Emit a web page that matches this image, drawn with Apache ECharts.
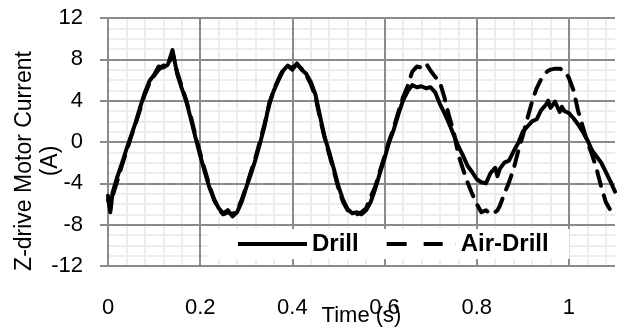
<!DOCTYPE html>
<html><head><meta charset="utf-8">
<script src="https://cdn.jsdelivr.net/npm/echarts@6/dist/echarts.min.js"></script>
<style>html,body{margin:0;padding:0;background:#fff}#c{width:617px;height:327px}</style>
</head><body><div id="c"></div>
<script>
const time = [0, 0.005, 0.01, 0.02, 0.03, 0.04, 0.05, 0.06, 0.07, 0.08, 0.09,
  0.1, 0.11, 0.12, 0.13, 0.14, 0.15, 0.16, 0.17, 0.18, 0.19,
  0.2, 0.21, 0.22, 0.23, 0.24, 0.25, 0.26, 0.27, 0.28, 0.29,
  0.3, 0.31, 0.32, 0.33, 0.34, 0.35, 0.36, 0.37, 0.38, 0.39,
  0.4, 0.41, 0.42, 0.43, 0.44, 0.45, 0.46, 0.47, 0.48, 0.49,
  0.5, 0.51, 0.52, 0.53, 0.54, 0.55, 0.56, 0.57, 0.58, 0.59,
  0.6, 0.61, 0.62, 0.63, 0.64, 0.65, 0.66, 0.67, 0.68, 0.69,
  0.7, 0.71, 0.72, 0.73, 0.74, 0.75, 0.76, 0.77, 0.78, 0.79,
  0.8, 0.81, 0.82, 0.83, 0.84, 0.845,
  0.85, 0.86, 0.87, 0.88, 0.89, 0.9, 0.91, 0.92, 0.93, 0.94, 0.95, 0.955,
  0.96, 0.97, 0.98, 0.985,
  0.99, 1, 1.01, 1.02, 1.03, 1.04, 1.05, 1.06, 1.07, 1.08, 1.09, 1.1];

const drill = [-5.2, -6.8, -4.9, -3.4, -2.1, -0.7, 0.6, 1.9, 3.4, 4.8, 5.9,
  6.5, 7.3, 7.2, 7.5, 8.9, 6.6, 5.2, 3.9, 2.2, 0.4,
  -1.3, -2.9, -4.4, -5.5, -6.4, -6.9, -6.6, -7.2, -6.8, -5.8,
  -4.4, -3.1, -1.7, -0.1, 1.6, 3.8, 5.0, 6.0, 6.9, 7.4,
  7.0, 7.6, 7.0, 6.6, 5.8, 4.6, 2.5, 0.5, -1.0, -2.6,
  -4.3, -5.6, -6.5, -6.9, -6.8, -7.0, -6.6, -5.8, -4.5, -3.0,
  -1.6, 0.0, 1.2, 2.7, 4.0, 4.9, 5.5, 5.3, 5.4, 5.2,
  5.3, 4.8, 3.7, 2.8, 1.8, 0.7, -0.4, -1.3, -2.3, -2.9,
  -3.6, -3.9, -4.0, -3.0, -2.5, -3.3,
  -2.6, -2.0, -1.8, -0.9, -0.1, 1.0, 1.5, 2.0, 2.2, 3.1, 3.6, 4.0,
  3.3, 3.9, 2.9, 3.4,
  3.0, 2.8, 2.3, 1.7, 1.0, 0.2, -0.8, -1.4, -2.0, -2.9, -3.8, -4.8];

const airDrill = [-5.6, -6.5, -5.2, -3.8, -2.3, -0.9, 0.5, 1.8, 3.2, 4.6, 5.7,
  6.4, 7.0, 7.4, 7.3, 8.6, 6.8, 5.4, 4.0, 2.4, 0.6,
  -1.1, -2.7, -4.2, -5.6, -6.5, -7.0, -6.8, -7.0, -6.6, -5.6,
  -4.3, -2.9, -1.5, 0.1, 1.8, 3.6, 5.1, 6.1, 7.0, 7.3,
  7.2, 7.5, 7.1, 6.5, 5.6, 4.4, 2.3, 0.4, -1.2, -2.8,
  -4.5, -5.8, -6.6, -6.8, -7.0, -6.8, -6.4, -5.3, -4.3, -2.8,
  -1.4, 0.1, 1.4, 2.9, 4.3, 5.4, 6.8, 7.3, 7.2, 7.6,
  6.9, 6.3, 5.8, 4.3, 2.5, 1.0, -1.2, -2.6, -3.9, -5.0,
  -6.0, -6.8, -6.6, -7.0, -6.8, -6.6,
  -6.2, -5.0, -3.9, -2.6, -0.9, 0.6, 2.3, 3.9, 5.2, 6.1, 6.7, 6.9,
  7.0, 7.1, 7.1, 7.0,
  6.9, 6.2, 5.0, 3.0, 1.5, 0.0, -1.2, -2.6, -4.3, -5.8, -6.6, -7.0];

const seriesNames = ['Drill', 'Air-Drill'];
const xAxisName = 'Time (s)';
const yAxisName = 'Z-drive Motor Current\n(A)';

const FONT = 'Arial, "Liberation Sans", sans-serif';
const MAJOR = '#8a8a8a';
const MINOR = '#ededed';

const chart = echarts.init(document.getElementById('c'), null, {renderer: 'canvas'});
const option = {
  animation: false,
  backgroundColor: '#fff',
  grid: {left: 108, right: 2, top: 18, bottom: 61, containLabel: false, outerBoundsMode: 'none'},
  xAxis: [
    {type: 'value', min: 0, max: 1.1, interval: 0.2, position: 'bottom', z: 0,
     axisLine: {show: false, onZero: false},
     axisTick: {show: false},
     axisLabel: {margin: 31, fontSize: 22, color: '#000', fontFamily: FONT, showMaxLabel: false,
       formatter: v => (Math.abs(v - 1.1) < 1e-9 ? '' : String(+v.toFixed(1)))},
     splitLine: {show: false},
     minorTick: {show: false, splitNumber: 5},
     minorSplitLine: {show: true, lineStyle: {color: MINOR, width: 2}},
     name: xAxisName, nameLocation: 'middle', nameGap: 39, nameMoveOverlap: false,
     nameTextStyle: {fontSize: 22, color: '#000', fontFamily: FONT}},
    {type: 'value', min: 0, max: 1.1, interval: 0.2, position: 'top', z: 1,
     axisLine: {show: false, onZero: false}, axisTick: {show: false}, axisLabel: {show: false},
     splitLine: {show: true, showMaxLine: false, lineStyle: {color: MAJOR, width: 2}}}
  ],
  yAxis: [
    {type: 'value', min: -12, max: 12, interval: 4, position: 'left', z: 0,
     axisLine: {show: false, onZero: false},
     axisTick: {show: true, length: 8, lineStyle: {color: MAJOR, width: 2}},
     axisLabel: {margin: 25, fontSize: 22, color: '#000', fontFamily: FONT},
     splitLine: {show: false},
     minorTick: {show: false, splitNumber: 4},
     minorSplitLine: {show: true, lineStyle: {color: MINOR, width: 2}}},
    {type: 'value', min: -12, max: 12, interval: 4, position: 'right', z: 1,
     axisLine: {show: false, onZero: false}, axisTick: {show: false}, axisLabel: {show: false},
     splitLine: {show: true, lineStyle: {color: MAJOR, width: 2}}}
  ],
  legend: {
    left: 208, top: 229, orient: 'horizontal', backgroundColor: '#fff',
    padding: [3, 21, 3, 30], itemGap: 28, itemWidth: 69, itemHeight: 4,
    textStyle: {fontSize: 24, fontWeight: 'bold', color: '#000', fontFamily: FONT},
    itemStyle: {color: '#000', borderWidth: 0},
    data: [
      {name: seriesNames[0], icon: 'path://M0,0H69V4H0Z'},
      {name: seriesNames[1], icon: 'path://M0,0H20V4H0Z M37,0H56V4H37Z M68.9,0H69V4H68.9Z'}
    ]
  },
  graphic: [{
    type: 'text', x: 38, y: 161, rotation: Math.PI / 2, z: 10,
    style: {text: yAxisName, fontSize: 23, fontFamily: FONT, fill: '#000',
      align: 'center', verticalAlign: 'middle', lineHeight: 26}
  }],
  series: [
    {name: seriesNames[0], type: 'line', xAxisIndex: 0, yAxisIndex: 0, z: 3,
     data: time.map((t, i) => [t, drill[i]]), showSymbol: false, symbol: 'none',
     lineStyle: {color: '#000', width: 4, join: 'round', cap: 'round'}, itemStyle: {color: '#000'}},
    {name: seriesNames[1], type: 'line', xAxisIndex: 0, yAxisIndex: 0, z: 3,
     data: time.map((t, i) => [t, airDrill[i]]), showSymbol: false, symbol: 'none',
     lineStyle: {color: '#000', width: 4, type: [15, 10], join: 'round', cap: 'round'}, itemStyle: {color: '#000'}}
  ]
};
chart.setOption(option);
</script>
</body></html>
